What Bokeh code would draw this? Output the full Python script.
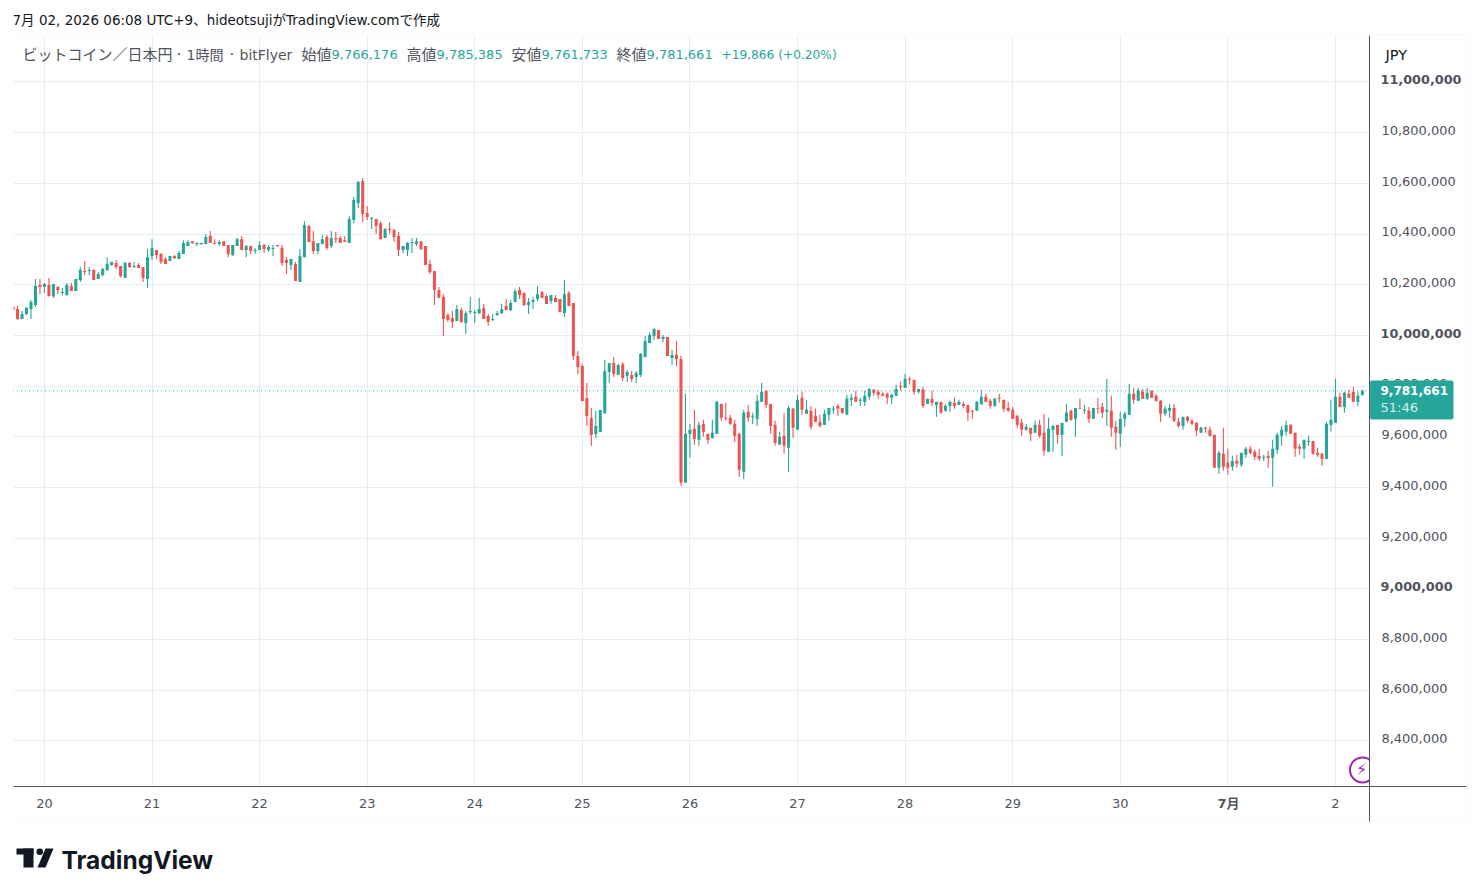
from bokeh.plotting import figure
from bokeh.models import ColumnDataSource, FixedTicker, NumeralTickFormatter, Range1d, Label, BoxAnnotation, PolyAnnotation
from bokeh.core.properties import value
from bokeh.embed import file_html
from bokeh.resources import INLINE

# hourly OHLC, thousand JPY, from 19 Jun 17:00 to 2 Jul 06:00 (UTC+9)
open_k = [
10112,10104,10065,10085,10104,10120,10199,10191,10199,10155,
10191,10167,10159,10195,10175,10219,10254,10254,10258,10223,
10238,10258,10278,10286,10274,10227,10286,10270,10278,10270,
10223,10313,10337,10321,10302,10294,10313,10302,10321,10353,
10372,10361,10361,10361,10392,10365,10361,10372,10357,10317,
10353,10380,10337,10353,10333,10337,10357,10337,10341,10357,
10345,10298,10278,10282,10211,10309,10432,10372,10333,10361,
10388,10353,10384,10384,10376,10365,10455,10522,10609,10483,
10459,10459,10443,10384,10420,10416,10392,10337,10337,10365,
10361,10372,10353,10282,10254,10179,10152,10081,10069,10057,
10100,10049,10092,10088,10088,10108,10077,10061,10081,10088,
10116,10100,10132,10179,10167,10120,10132,10144,10171,10155,
10136,10148,10144,10088,10167,10128,9919,9879,9753,9674,
9611,9619,9694,9856,9891,9844,9887,9840,9844,9836,
9844,9915,9970,9998,10021,9986,9994,9911,9923,9907,
9419,9612,9632,9588,9651,9612,9596,9612,9730,9675,
9675,9651,9612,9462,9699,9679,9671,9738,9782,9730,
9647,9569,9604,9557,9711,9628,9754,9691,9703,9683,
9659,9647,9687,9707,9722,9714,9687,9746,9758,9742,
9738,9758,9786,9778,9770,9770,9754,9762,9801,9793,
9829,9825,9778,9786,9730,9750,9726,9738,9703,9722,
9734,9726,9730,9726,9703,9703,9730,9758,9742,9722,
9754,9746,9714,9707,9683,9655,9628,9636,9616,9647,
9616,9541,9628,9647,9608,9659,9703,9671,9714,9703,
9703,9671,9714,9718,9699,9703,9640,9612,9671,9687,
9770,9742,9778,9750,9782,9762,9742,9691,9703,9714,
9659,9643,9679,9663,9655,9616,9636,9628,9608,9478,
9533,9498,9482,9505,9490,9529,9553,9541,9525,9517,
9525,9517,9549,9604,9620,9647,9616,9561,9553,9580,
9584,9537,9533,9513,9647,9655,9758,9718,9770,9778,
9738,9766.176]
high_k = [
10112,10116,10096,10112,10140,10223,10223,10207,10227,10203,
10195,10187,10207,10207,10223,10270,10294,10270,10262,10250,
10266,10309,10290,10298,10274,10290,10290,10290,10286,10270,
10341,10380,10337,10325,10309,10313,10317,10333,10376,10376,
10372,10369,10365,10400,10412,10380,10376,10372,10357,10357,
10384,10392,10357,10353,10345,10372,10361,10357,10357,10357,
10357,10309,10302,10290,10341,10451,10436,10412,10365,10396,
10396,10412,10408,10392,10392,10471,10546,10609,10621,10511,
10467,10459,10451,10424,10447,10420,10408,10353,10369,10384,
10384,10372,10353,10298,10254,10191,10163,10088,10096,10120,
10108,10096,10152,10100,10148,10124,10085,10085,10096,10124,
10144,10140,10183,10191,10171,10148,10152,10195,10175,10163,
10159,10159,10144,10219,10175,10128,9939,9887,9812,9714,
9702,9706,9903,9891,9915,9887,9895,9864,9860,9860,
9931,9998,10013,10029,10021,10002,9994,9943,9978,9920,
9770,9651,9707,9659,9667,9612,9667,9742,9730,9734,
9687,9667,9616,9707,9726,9695,9766,9813,9782,9730,
9663,9620,9695,9722,9714,9766,9778,9746,9722,9711,
9687,9707,9714,9722,9730,9714,9766,9770,9782,9754,
9782,9793,9789,9786,9778,9774,9770,9805,9817,9849,
9837,9825,9789,9797,9750,9782,9738,9738,9730,9742,
9754,9746,9738,9726,9707,9742,9786,9770,9750,9754,
9770,9746,9738,9718,9687,9671,9651,9636,9663,9667,
9691,9675,9647,9647,9655,9730,9707,9714,9750,9726,
9718,9714,9754,9734,9829,9762,9663,9699,9699,9809,
9793,9793,9789,9793,9782,9770,9746,9722,9730,9730,
9675,9679,9683,9671,9659,9640,9640,9640,9608,9545,
9636,9553,9525,9529,9537,9561,9565,9549,9553,9529,
9545,9588,9616,9643,9663,9651,9616,9572,9588,9604,
9584,9557,9537,9659,9746,9829,9774,9778,9786,9797,
9778,9785.385]
low_k = [
10100,10061,10065,10081,10065,10112,10163,10167,10155,10148,
10163,10159,10159,10175,10175,10211,10238,10238,10219,10223,
10234,10254,10274,10262,10230,10227,10266,10266,10266,10211,
10187,10298,10302,10282,10282,10294,10302,10302,10321,10353,
10361,10353,10357,10361,10365,10361,10353,10353,10309,10313,
10353,10337,10309,10321,10321,10337,10325,10329,10313,10349,
10274,10242,10258,10215,10211,10309,10369,10321,10321,10361,
10337,10345,10365,10365,10369,10365,10443,10503,10447,10455,
10420,10400,10380,10384,10400,10369,10313,10325,10313,10325,
10353,10337,10278,10242,10120,10148,9998,10053,10029,10057,
10049,10006,10085,10049,10085,10065,10037,10057,10077,10085,
10100,10096,10132,10144,10116,10085,10104,10136,10148,10124,
10124,10132,10092,10073,10116,9903,9848,9741,9643,9564,
9595,9619,9690,9812,9836,9844,9820,9816,9816,9812,
9836,9915,9970,9982,9986,9974,9919,9883,9879,9407,
9419,9517,9569,9565,9600,9572,9592,9612,9663,9663,
9647,9580,9442,9434,9659,9651,9643,9738,9714,9612,
9565,9569,9533,9462,9596,9628,9687,9691,9628,9659,
9636,9647,9663,9691,9683,9691,9687,9722,9738,9722,
9722,9746,9762,9750,9762,9730,9730,9762,9782,9793,
9805,9766,9770,9714,9730,9722,9679,9691,9699,9699,
9711,9726,9714,9663,9671,9703,9726,9738,9711,9718,
9734,9699,9699,9671,9636,9604,9624,9584,9616,9596,
9525,9541,9541,9572,9525,9659,9663,9600,9711,9691,
9655,9671,9691,9675,9643,9600,9549,9561,9640,9687,
9730,9742,9750,9746,9754,9738,9659,9683,9675,9659,
9636,9628,9655,9647,9604,9616,9616,9600,9478,9454,
9466,9450,9466,9478,9482,9517,9529,9509,9505,9505,
9478,9403,9533,9565,9604,9612,9521,9529,9513,9565,
9529,9521,9486,9513,9620,9655,9718,9695,9754,9738,
9722,9761.733]
close_k = [
10100,10065,10085,10108,10132,10195,10191,10203,10155,10203,
10179,10171,10199,10175,10223,10258,10250,10258,10219,10242,
10262,10282,10290,10270,10234,10286,10270,10274,10266,10227,
10309,10345,10317,10290,10282,10313,10305,10325,10365,10369,
10365,10365,10365,10388,10365,10361,10369,10353,10321,10357,
10380,10337,10353,10333,10337,10357,10341,10349,10345,10353,
10286,10286,10302,10215,10313,10436,10369,10333,10365,10380,
10345,10384,10380,10365,10369,10459,10534,10605,10479,10467,
10463,10432,10380,10420,10416,10388,10337,10353,10365,10369,
10372,10341,10278,10250,10179,10148,10065,10061,10053,10104,
10053,10088,10096,10092,10104,10065,10053,10065,10088,10104,
10100,10128,10175,10159,10120,10132,10140,10163,10148,10124,
10159,10132,10092,10163,10116,9919,9875,9741,9682,9607,
9643,9706,9860,9891,9848,9883,9832,9856,9828,9852,
9927,9978,10002,10025,9986,9994,9919,9923,9907,9419,
9612,9628,9592,9647,9620,9588,9616,9738,9675,9671,
9651,9604,9470,9695,9675,9683,9742,9778,9726,9643,
9576,9600,9565,9714,9636,9746,9707,9707,9640,9659,
9643,9691,9714,9711,9711,9695,9750,9754,9738,9746,
9762,9789,9774,9766,9762,9754,9766,9789,9797,9829,
9825,9778,9789,9722,9750,9734,9738,9695,9722,9738,
9722,9738,9722,9695,9699,9738,9758,9738,9722,9750,
9750,9711,9703,9671,9647,9628,9640,9612,9647,9604,
9545,9632,9643,9608,9655,9695,9667,9714,9711,9707,
9671,9714,9711,9695,9707,9636,9616,9671,9691,9770,
9746,9782,9750,9774,9754,9742,9691,9711,9714,9663,
9643,9679,9663,9651,9624,9636,9632,9604,9478,9537,
9482,9478,9505,9494,9537,9553,9537,9521,9513,9521,
9517,9553,9608,9628,9647,9612,9553,9553,9588,9584,
9533,9529,9513,9651,9667,9758,9718,9774,9754,9738,
9762,9781.661]
y_ticks = [8400000, 8600000, 8800000, 9000000, 9200000, 9400000, 9600000, 9800000,
           10000000, 10200000, 10400000, 10600000, 10800000, 11000000]
strong_ticks = [9000000, 10000000, 11000000]
day_ticks = [7, 31, 55, 79, 103, 127, 151, 175, 199, 223, 247, 271, 295]
day_names = ["20", "21", "22", "23", "24", "25", "26", "27", "28", "29", "30", "7月", "2"]
last_price = 9781661

TEAL = "#26a69a"; RED = "#ef5350"; GRID = "#e3edf3"; AXIS = "#50535e"
FONT = "DejaVu Sans, Noto Sans CJK JP"

hours = list(range(len(close_k)))
o = [v * 1000 for v in open_k]; h = [v * 1000 for v in high_k]
l = [v * 1000 for v in low_k]; c = [v * 1000 for v in close_k]
cols = [TEAL if b >= a else RED for a, b in zip(o, c)]
tops = [max(a, b) for a, b in zip(o, c)]; bots = [min(a, b) for a, b in zip(o, c)]
src = ColumnDataSource(dict(x=hours, h=h, l=l, top=tops, bot=bots, col=cols))

# the frame covers the page below the left margin, so that header, price tag and logo are not cut off
X_PER_PX = 0.22308
Y_PER_PX = 3945.4
def xd(px): return 0.1 + (px - 13) * X_PER_PX
def yd(py): return 8222000 - (py - 785.6) * Y_PER_PX
def X(v): return v - 13
def Y(v): return 888 - v

p = figure(width=1471, height=888, frame_width=1458, frame_height=888, output_backend="svg", toolbar_location=None,
           x_range=Range1d(xd(13), xd(1471)), y_range=Range1d(yd(888), yd(0)),
           x_axis_location="below", y_axis_location="right",
           min_border_left=13, min_border_right=0, min_border_top=0, min_border_bottom=0,
           background_fill_color="white", border_fill_color="white", outline_line_color=None)

LABEL_LIFT = 2.2 * Y_PER_PX
p.extra_y_ranges = {"labels": Range1d(yd(888) - LABEL_LIFT, yd(0) - LABEL_LIFT)}
yax = p.yaxis[0]; xax = p.xaxis[0]
yax.y_range_name = "labels"
yax.fixed_location = xd(1368.9)
yax.bounds = (yd(821) - LABEL_LIFT, yd(35) - LABEL_LIFT)
xax.fixed_location = yd(785.9)
xax.bounds = (xd(13), xd(1466))
yax.ticker = FixedTicker(ticks=y_ticks)
yax.formatter = NumeralTickFormatter(format="0,0")
yax.major_label_overrides = {t: " " for t in strong_ticks}
xax.ticker = FixedTicker(ticks=day_ticks)
xax.major_label_overrides = {t: (" " if n == "7月" else n) for t, n in zip(day_ticks, day_names)}
for ax in (xax, yax):
    ax.major_tick_line_color = None; ax.minor_tick_line_color = None
    ax.axis_line_color = AXIS; ax.axis_line_width = 1
    ax.major_label_text_color = AXIS; ax.major_label_text_font = FONT
    ax.major_label_text_font_size = "13px"
yax.major_label_standoff = 6
xax.major_label_standoff = 4
p.xgrid.ticker = FixedTicker(ticks=day_ticks); p.ygrid.ticker = FixedTicker(ticks=y_ticks)
p.xgrid.grid_line_color = GRID; p.ygrid.grid_line_color = GRID

def label(x, y, text, color=AXIS, size="13px", style="normal", align="left", font=FONT):
    p.add_layout(Label(x=X(x) - 1, y=Y(y), x_units="screen", y_units="screen", text=text, text_color=color,
                       text_font_size=size, text_font_style=style, text_align=align,
                       text_baseline="middle", text_font=font))

def box(a, b, t, d, **kw):
    p.add_layout(BoxAnnotation(left=X(a), right=X(b), top=Y(t), bottom=Y(d), left_units="screen", right_units="screen",
                               top_units="screen", bottom_units="screen", **kw))

# masks over the grid outside the pane (level underlay: painted after the grid, before the marks and axes)
for a, b, t, d in [(1369, 1471, 0, 888), (13, 1471, 786, 888), (13, 1471, 0, 35)]:
    box(a, b, t, d, fill_color="white", fill_alpha=1, line_color=None, level="underlay")
box(13, 1466, 34, 821, fill_alpha=0, line_color="#f0f3fa", line_width=2, level="underlay")

p.line([hours[0], xd(1369)], [last_price, last_price], line_color=TEAL, line_dash="1 3", line_width=1)
p.segment("x", "h", "x", "l", source=src, color="col", line_width=1.1)
p.vbar("x", width=0.68, top="top", bottom="bot", source=src, fill_color="col", line_color=None)

# purple badge, cut off by the price axis
p.scatter([xd(1362)], [yd(769.4)], marker="circle", size=25, fill_color="white", line_color="#9c27b0", line_width=2)
p.text([xd(1361)], [yd(769.4)], text=["⚡"], text_color="#9c27b0", text_font_size="16px", text_align="center",
       text_baseline="middle", text_font=value("DejaVu Sans"))
box(1369.6, 1378, 750, 785, fill_color="white", fill_alpha=1, line_color=None)

# strong tick labels
for t in strong_ticks:
    p.add_layout(Label(x=X(1380), y=t, x_units="screen", y_units="data", text=f"{t:,}", text_color=AXIS,
                       text_font_size="12.8px", text_font_style="bold", text_baseline="middle", text_font=FONT, y_offset=2.2))
label(1229, 803, "7月", style="bold", align="center")

# currency button
box(1374, 1463, 39, 70, fill_color="white", fill_alpha=1, line_color="#eef1f6", line_width=1, border_radius=6)
label(1386, 54, "JPY", color="#131722", size="14.5px")

# last price tag
box(1369.6, 1453, 380, 419, fill_color=TEAL, fill_alpha=1, line_color=None, border_radius=2)
label(1381, 390, f"{last_price:,}", color="white", style="bold", size="12px")
label(1381, 407, "51:46", color="#d4efec")

# header
label(13, 19, "7月 02, 2026 06:08 UTC+9、hideotsujiがTradingView.comで作成", color="#131722", size="13.5px")
label(23, 54, "ビットコイン／日本円", size="15px")
label(177, 54, "·", size="15px")
label(187, 54, "1時間", size="14px")
label(230, 54, "·", size="15px")
label(240, 54, "bitFlyer", size="14px")
for xa, name, xb, val in [(302, "始値", 332, "9,766,176"), (407, "高値", 437, "9,785,385"),
                          (512, "安値", 542, "9,761,733"), (617, "終値", 647, "9,781,661")]:
    label(xa, 54, name, size="15px")
    label(xb, 54, val, color=TEAL)
label(722, 54, "+19,866 (+0.20%)", color=TEAL, size="12.2px")

# logo
B = "#131722"
box(16, 33, 848, 854, fill_color=B, fill_alpha=1, line_color=None)
box(23, 33, 848, 867, fill_color=B, fill_alpha=1, line_color=None)
p.add_layout(PolyAnnotation(xs=[X(45), X(53), X(45), X(37)], ys=[Y(848), Y(848), Y(867), Y(867)], xs_units="screen",
                            ys_units="screen", fill_color=B, fill_alpha=1, line_color=None))
box(36, 42.5, 848, 854.5, fill_color=B, fill_alpha=1, line_color=None, border_radius=3)
label(62, 859, "TradingView", color=B, size="24.5px", style="bold", font="Inter")

open("out.html", "w").write(file_html(p, INLINE))
